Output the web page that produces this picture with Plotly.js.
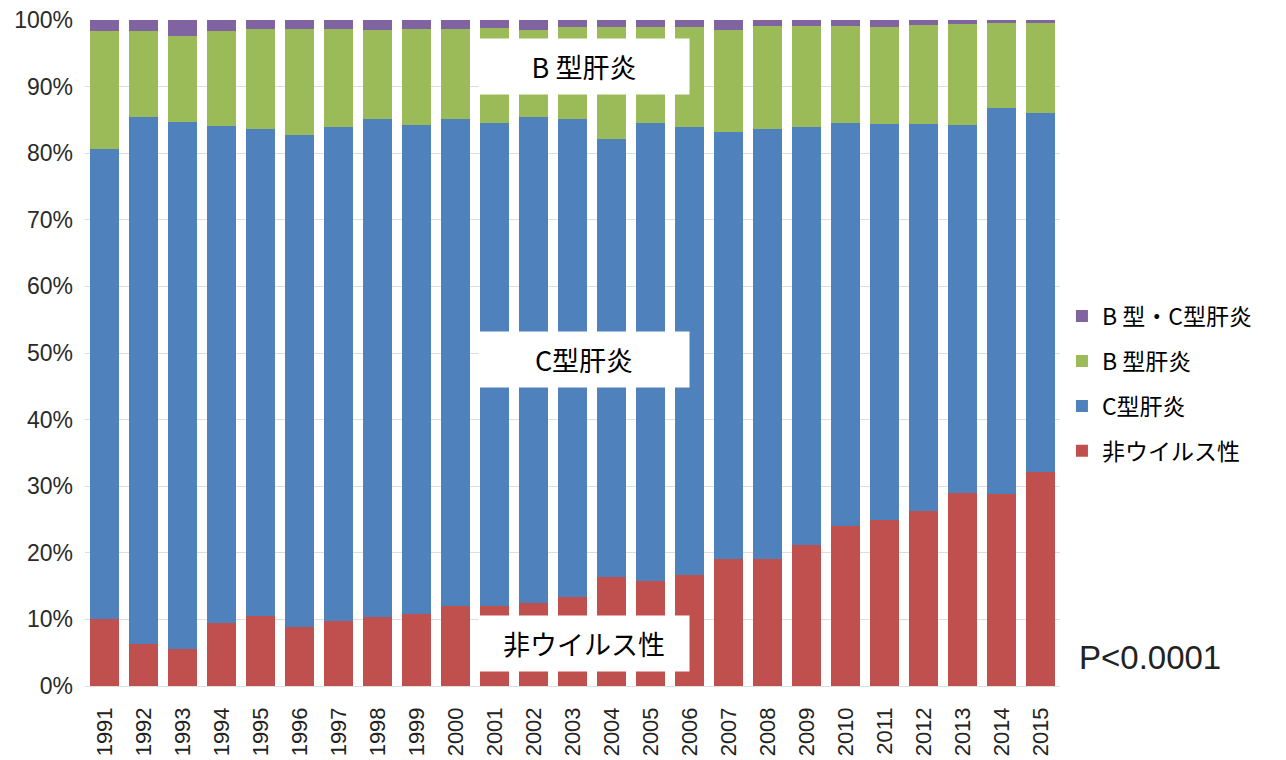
<!DOCTYPE html>
<html>
<head>
<meta charset="utf-8">
<script src="https://cdn.plot.ly/plotly-3.0.1.min.js"></script>
<style>
html,body{margin:0;padding:0;background:#fff;}
#chart{width:1286px;height:760px;}
</style>
</head>
<body>
<div id="chart"></div>
<script>
// Data (percent of cases per year)
var years = ["1991","1992","1993","1994","1995","1996","1997","1998","1999","2000","2001","2002","2003","2004","2005","2006","2007","2008","2009","2010","2011","2012","2013","2014","2015"];
var nonViral = [10.0, 6.3, 5.6, 9.4, 10.5, 8.8, 9.8, 10.4, 10.8, 12.0, 12.0, 12.4, 13.3, 16.4, 15.7, 16.7, 19.0, 19.0, 21.2, 24.0, 25.0, 26.3, 29.0, 28.9, 32.2];
var hepC = [70.7, 79.1, 79.1, 74.7, 73.1, 74.0, 74.2, 74.7, 73.5, 73.2, 72.6, 73.0, 71.8, 65.7, 68.9, 67.3, 64.2, 64.6, 62.8, 60.5, 59.4, 58.1, 55.2, 57.9, 53.8];
var hepB = [17.7, 13.0, 12.9, 14.2, 15.0, 15.9, 14.7, 13.4, 14.3, 13.4, 14.2, 13.1, 13.8, 16.8, 14.3, 14.9, 15.3, 15.5, 15.1, 14.6, 14.5, 14.8, 15.2, 12.8, 13.6];
var hepBC = [1.6, 1.6, 2.4, 1.7, 1.4, 1.3, 1.3, 1.5, 1.4, 1.4, 1.2, 1.5, 1.1, 1.1, 1.1, 1.1, 1.5, 0.9, 0.9, 0.9, 1.1, 0.8, 0.6, 0.4, 0.4];
var seriesNames = ["非ウイルス性", "C型肝炎", "B 型肝炎", "B 型・C型肝炎"];
var yTicks = [0,10,20,30,40,50,60,70,80,90,100];
var yTickText = ["0%","10%","20%","30%","40%","50%","60%","70%","80%","90%","100%"];
var pValue = "P<0.0001";

var colors = ["#C0504D", "#4F81BD", "#9BBB59", "#8064A2"];
var values = [nonViral, hepC, hepB, hepBC];
var ranks = [4, 3, 2, 1];

var traces = values.map(function(v, i){
  return {
    type: "bar",
    x: years,
    y: v,
    name: seriesNames[i],
    legendgroup: "g" + i,
    legendrank: ranks[i],
    marker: {color: colors[i], line: {width: 0}},
    hoverinfo: "x+y+name"
  };
});

var cjk = "'Noto Sans CJK JP', 'Noto Sans', sans-serif";
var latin = "'Liberation Sans', Arial, sans-serif";

function boxAnn(text, y){
  return {
    xref: "paper", yref: "paper",
    x: 0.5115, y: y,
    xanchor: "center", yanchor: "middle",
    text: text,
    showarrow: false,
    bgcolor: "#ffffff",
    width: 210, height: 55,
    borderpad: 0,
    font: {family: cjk, size: 27, color: "#000"}
  };
}

var layout = {
  width: 1286, height: 760,
  margin: {l: 85, r: 226, t: 20, b: 74},
  paper_bgcolor: "#ffffff",
  plot_bgcolor: "#ffffff",
  barmode: "stack",
  bargap: 0.256,
  showlegend: true,
  legend: {
    x: 1.002, xanchor: "left",
    y: 0.454, yanchor: "middle",
    traceorder: "grouped",
    tracegroupgap: 12,
    font: {family: cjk, size: 23, color: "#000"},
    bgcolor: "rgba(0,0,0,0)"
  },
  xaxis: {
    type: "category",
    tickangle: -90,
    ticklabelstandoff: 16,
    tickfont: {family: latin, size: 22, color: "#222"},
    showgrid: false,
    showline: false,
    zeroline: false,
    ticks: ""
  },
  yaxis: {
    range: [0, 100],
    tickvals: yTicks,
    ticktext: yTickText,
    tickfont: {family: latin, size: 23, color: "#2a2a2a"},
    ticklabelstandoff: 11,
    showgrid: true,
    gridcolor: "#dedede",
    gridwidth: 1,
    zeroline: true,
    zerolinecolor: "#dedede",
    zerolinewidth: 1,
    showline: false,
    ticks: ""
  },
  annotations: [
    boxAnn(seriesNames[2], 0.930),
    boxAnn(seriesNames[1], 0.490),
    boxAnn(seriesNames[0], 0.0635),
    {
      xref: "paper", yref: "paper",
      x: 1.017, y: 0.0428,
      xanchor: "left", yanchor: "middle",
      text: pValue, showarrow: false,
      font: {family: latin, size: 33, color: "#222"}
    }
  ]
};

Plotly.newPlot("chart", traces, layout, {displayModeBar: false, staticPlot: true});
</script>
</body>
</html>
